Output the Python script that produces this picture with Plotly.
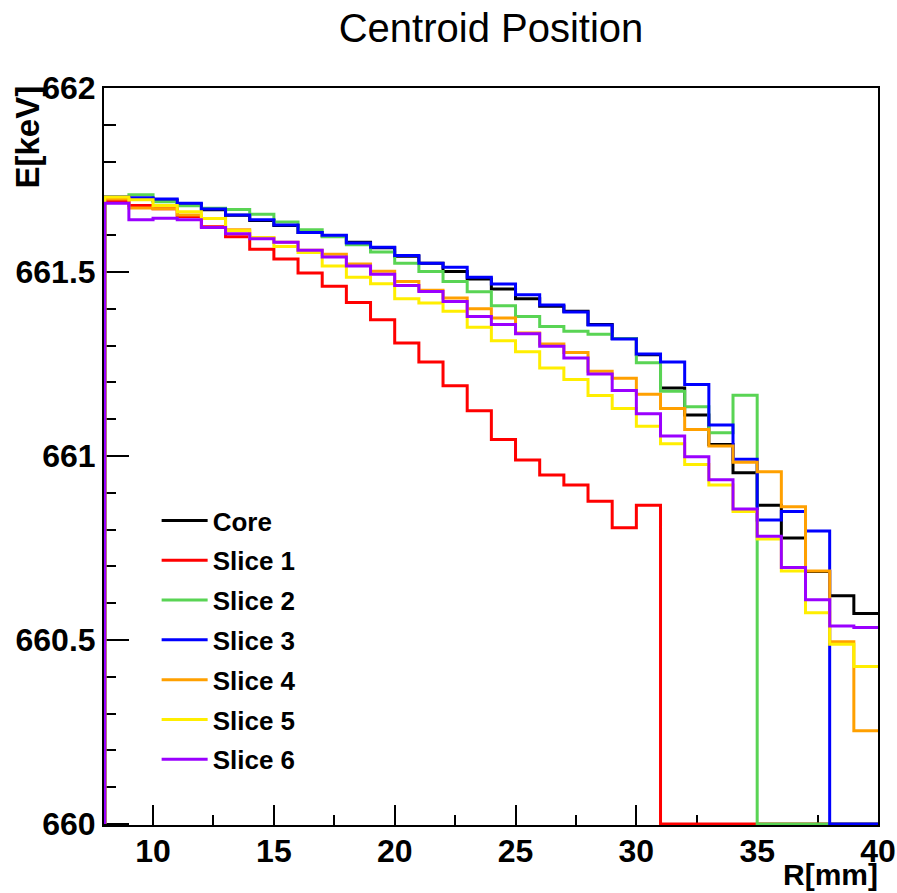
import plotly.graph_objects as go

# bin edges (R in mm), 1 mm bins from 8 to 40
r_edges = list(range(8, 41))

series_names = ["Core", "Slice 1", "Slice 2", "Slice 3", "Slice 4", "Slice 5", "Slice 6"]
series_colors = ["#000000", "#ff0000", "#59d454", "#0000ff", "#ffa000", "#ffee00", "#9a00ff"]

core = [661.703, 661.699, 661.695, 661.684, 661.669, 661.654, 661.640, 661.626, 661.607, 661.598,
        661.581, 661.566, 661.543, 661.524, 661.501, 661.481, 661.454, 661.427, 661.407, 661.393,
        661.357, 661.319, 661.275, 661.185, 661.111, 661.031, 660.954, 660.866, 660.777, 660.686,
        660.620, 660.572]
slice1 = [661.694, 661.681, 661.672, 661.651, 661.623, 661.596, 661.562, 661.535, 661.497, 661.461,
          661.417, 661.370, 661.307, 661.255, 661.191, 661.123, 661.045, 660.989, 660.948, 660.921,
          660.877, 660.805, 660.866, 660.0, 660.0, 660.0, 660.0, 660.0, 660.0, 660.0,
          660.0, 660.0]
slice2 = [661.704, 661.710, 661.691, 661.680, 661.673, 661.670, 661.657, 661.636, 661.615, 661.596,
          661.574, 661.554, 661.524, 661.501, 661.474, 661.446, 661.408, 661.379, 661.352, 661.339,
          661.331, 661.319, 661.253, 661.176, 661.134, 661.063, 661.165, 660.0, 660.0, 660.0,
          660.0, 660.0]
slice3 = [661.704, 661.702, 661.698, 661.687, 661.671, 661.655, 661.642, 661.628, 661.607, 661.600,
          661.579, 661.567, 661.545, 661.524, 661.513, 661.486, 661.467, 661.438, 661.410, 661.391,
          661.356, 661.318, 661.277, 661.255, 661.194, 661.084, 660.991, 660.826, 660.849, 660.796,
          660.0, 660.0]
slice4 = [661.698, 661.674, 661.672, 661.655, 661.645, 661.615, 661.593, 661.581, 661.559, 661.548,
          661.522, 661.502, 661.474, 661.450, 661.429, 661.400, 661.375, 661.334, 661.304, 661.281,
          661.230, 661.211, 661.168, 661.129, 661.072, 661.027, 660.983, 660.957, 660.862, 660.687,
          660.495, 660.253]
slice5 = [661.704, 661.696, 661.681, 661.664, 661.645, 661.612, 661.593, 661.569, 661.553, 661.516,
          661.486, 661.468, 661.427, 661.416, 661.393, 661.350, 661.313, 661.283, 661.239, 661.208,
          661.164, 661.129, 661.081, 661.033, 660.977, 660.921, 660.849, 660.774, 660.687, 660.574,
          660.488, 660.428]
slice6 = [661.687, 661.642, 661.646, 661.642, 661.621, 661.604, 661.590, 661.581, 661.559, 661.541,
          661.516, 661.494, 661.463, 661.447, 661.420, 661.379, 661.357, 661.332, 661.298, 661.266,
          661.223, 661.178, 661.115, 661.054, 660.998, 660.935, 660.856, 660.782, 660.697, 660.609,
          660.538, 660.534]

all_series = [core, slice1, slice2, slice3, slice4, slice5, slice6]

y_min, y_max = 660.0, 662.0
x_ticks = [10, 15, 20, 25, 30, 35, 40]
y_ticks = [660, 660.5, 661, 661.5, 662]
y_tick_text = ["660", "660.5", "661", "661.5", "662"]

FONT = "Liberation Sans, Arial, Helvetica, sans-serif"

fig = go.Figure()
for i, (name, color, vals) in enumerate(zip(series_names, series_colors, all_series)):
    xs = [r_edges[0]] + r_edges[:-1] + [r_edges[-1]]
    ys = [y_min] + vals + [vals[-1]]
    fig.add_trace(go.Scatter(
        x=xs, y=ys, mode="lines", name=name,
        line=dict(color=color, width=3, shape="hv"),
        legendgroup=f"g{i}",
    ))

fig.update_layout(
    width=897, height=893,
    margin=dict(l=104, r=19, t=88, b=68),
    paper_bgcolor="white", plot_bgcolor="white",
    font=dict(family=FONT, color="black"),
    title=dict(text="Centroid Position", x=0.5, xref="paper", xanchor="center",
               y=1 - 28 / 893, yref="container", yanchor="middle",
               font=dict(size=40, family=FONT, color="black")),
    showlegend=True,
    legend=dict(x=0.068, y=0.445, xanchor="left", yanchor="top",
                bgcolor="rgba(0,0,0,0)", borderwidth=0,
                font=dict(size=26, family=FONT, weight="bold", color="black"),
                itemwidth=46, tracegroupgap=3),
)

fig.update_xaxes(
    range=[7.97, 40], showgrid=False, zeroline=False, automargin=False,
    showline=True, linecolor="black", linewidth=2, mirror=True,
    ticks="inside", ticklen=20, tickwidth=1.5, tickcolor="black",
    tickvals=x_ticks, layer="below traces", ticklabelstandoff=-3,
    tickfont=dict(size=32, family=FONT, weight="bold", color="black"),
    minor=dict(ticks="inside", ticklen=10, tickwidth=1.5, tickcolor="black", dtick=2.5, tick0=0),
)
fig.update_yaxes(
    range=[659.997, y_max], showgrid=False, zeroline=False, automargin=False,
    showline=True, linecolor="black", linewidth=2, mirror=True,
    ticks="inside", ticklen=25, tickwidth=1.5, tickcolor="black",
    tickvals=y_ticks, ticktext=y_tick_text, layer="below traces",
    tickfont=dict(size=32, family=FONT, weight="bold", color="black"),
    minor=dict(ticks="inside", ticklen=12, tickwidth=1.5, tickcolor="black", dtick=0.1, tick0=660),
)

fig.add_annotation(text="E[keV]", xref="paper", yref="paper", x=0, y=1,
                   xanchor="center", yanchor="top", xshift=-77, yshift=4,
                   textangle=-90, showarrow=False,
                   font=dict(size=33, family=FONT, weight="bold", color="black"))
fig.add_annotation(text="R[mm]", xref="paper", yref="paper", x=1, y=0,
                   xanchor="right", yanchor="top", yshift=-31, xshift=2,
                   showarrow=False,
                   font=dict(size=30, family=FONT, weight="bold", color="black"))

fig.write_html("out.html")
